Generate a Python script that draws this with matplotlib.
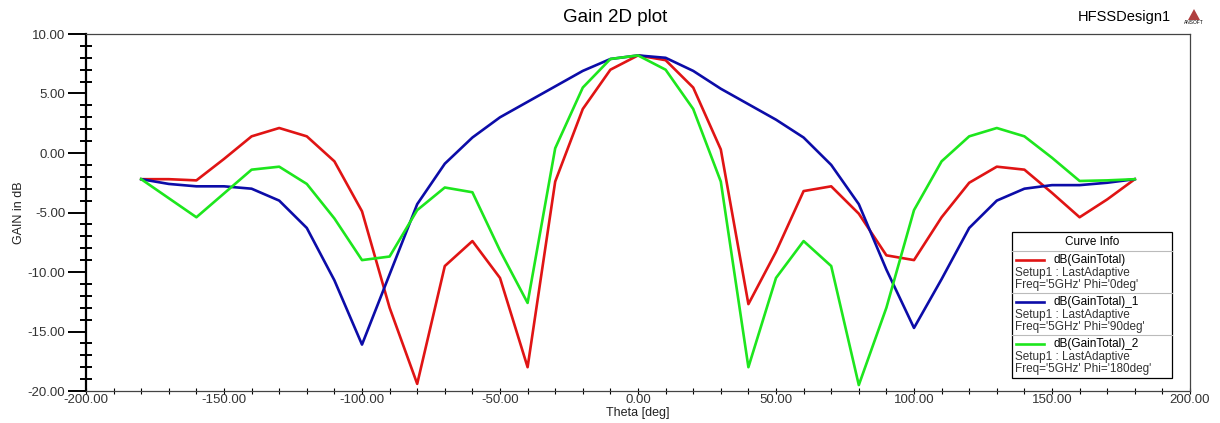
import matplotlib.pyplot as plt
from matplotlib.lines import Line2D
from matplotlib.patches import Rectangle, Polygon
from matplotlib.ticker import MultipleLocator, FormatStrFormatter

plt.rcParams['font.family'] = ['Liberation Sans', 'DejaVu Sans']

# theta sweep, 10 deg steps
theta = list(range(-180, 181, 10))

# dB(GainTotal), Phi = 0deg
gain_phi0 = [-2.2, -2.2, -2.3, -0.5, 1.4, 2.1, 1.4, -0.7, -4.9, -13.0,
             -19.4, -9.5, -7.4, -10.5, -18.0, -2.4, 3.7, 7.0, 8.2, 7.8,
             5.5, 0.3, -12.7, -8.3, -3.2, -2.8, -5.1, -8.6, -9.0, -5.4,
             -2.5, -1.15, -1.4, -3.35, -5.4, -3.9, -2.2]
# dB(GainTotal)_1, Phi = 90deg
gain_phi90 = [-2.2, -2.6, -2.8, -2.8, -3.0, -4.0, -6.3, -10.7, -16.1, -10.2,
              -4.3, -0.9, 1.3, 3.0, 4.3, 5.6, 6.9, 7.9, 8.2, 8.0,
              6.9, 5.4, 4.1, 2.8, 1.3, -1.0, -4.3, -9.8, -14.7, -10.6,
              -6.3, -4.0, -3.0, -2.7, -2.7, -2.5, -2.2]
# dB(GainTotal)_2, Phi = 180deg
gain_phi180 = [-2.2, -3.8, -5.4, -3.4, -1.4, -1.15, -2.6, -5.5, -9.0, -8.7,
               -4.8, -2.9, -3.3, -8.2, -12.6, 0.4, 5.5, 7.9, 8.2, 7.0,
               3.7, -2.4, -18.0, -10.5, -7.4, -9.5, -19.5, -13.0, -4.8, -0.7,
               1.4, 2.1, 1.4, -0.4, -2.35, -2.3, -2.2]

series = [
    (gain_phi0, '#e01414', 'dB(GainTotal)', "Freq='5GHz' Phi='0deg'"),
    (gain_phi90, '#0c0ca8', 'dB(GainTotal)_1', "Freq='5GHz' Phi='90deg'"),
    (gain_phi180, '#1de61d', 'dB(GainTotal)_2', "Freq='5GHz' Phi='180deg'"),
]

W, H = 1220, 423
fig = plt.figure(figsize=(W / 100, H / 100), dpi=100)
ax = fig.add_axes([86 / W, 1 - 391 / H, (1190 - 86) / W, (391 - 34) / H])

for vals, col, name, info in series:
    ax.plot(theta, vals, color=col, lw=1.9)

ax.set_xlim(-200, 200)
ax.set_ylim(-20, 10)
ax.xaxis.set_major_locator(MultipleLocator(50))
ax.xaxis.set_minor_locator(MultipleLocator(10))
ax.yaxis.set_major_locator(MultipleLocator(5))
ax.yaxis.set_minor_locator(MultipleLocator(1))
ax.xaxis.set_major_formatter(FormatStrFormatter('%.2f'))
ax.yaxis.set_major_formatter(FormatStrFormatter('%.2f'))
ax.tick_params(axis='y', which='major', direction='out', length=13, width=1.4,
               labelsize=9.5, labelcolor='#333333', pad=2)
ax.tick_params(axis='y', which='minor', direction='inout', length=8, width=1.4)
ax.tick_params(axis='x', which='major', direction='inout', length=5, width=0.8,
               labelsize=9.5, labelcolor='#333333', pad=0)
ax.tick_params(axis='x', which='minor', direction='inout', length=4, width=0.8)
for s in ['top', 'right', 'bottom']:
    ax.spines[s].set_linewidth(0.9)
    ax.spines[s].set_color('#444444')
ax.spines['left'].set_linewidth(1.6)

ax.set_xlabel('Theta [deg]', fontsize=9, color='#222222', labelpad=0.5)
ax.set_ylabel('GAIN in dB', fontsize=9, color='#222222', labelpad=2)

def fx(x):
    return x / W

def fy(y):
    return 1 - y / H

fig.text(fx(615), fy(17), 'Gain 2D plot', fontsize=13.5, ha='center', va='center')
fig.text(fx(1124), fy(17), 'HFSSDesign1', fontsize=10.5, ha='center', va='center')
# small logo
fig.patches.append(Polygon([(fx(1188), fy(20)), (fx(1200), fy(20)), (fx(1194), fy(9))],
                           closed=True, transform=fig.transFigure,
                           facecolor='#b04040', edgecolor='none'))
fig.text(fx(1194), fy(23), 'ANSOFT', fontsize=3.5, ha='center', va='center')

# "Curve Info" box
bx0, bx1, by0, by1 = 1012, 1172, 232, 378
fig.patches.append(Rectangle((fx(bx0), fy(by1)), fx(bx1 - bx0), (by1 - by0) / H,
                             transform=fig.transFigure, facecolor='white',
                             edgecolor='black', lw=0.9, zorder=5))
fig.text(fx((bx0 + bx1) / 2), fy(242), 'Curve Info', fontsize=8.5,
         ha='center', va='center', zorder=6)
row_top = [251, 293, 335]
for (vals, col, name, info), ry in zip(series, row_top):
    fig.lines.append(Line2D([fx(bx0), fx(bx1)], [fy(ry), fy(ry)],
                            transform=fig.transFigure, color='#bbbbbb', lw=0.8, zorder=6))
    fig.lines.append(Line2D([fx(1016), fx(1044)], [fy(ry + 9), fy(ry + 9)],
                            transform=fig.transFigure, color=col, lw=1.9, zorder=6))
    fig.text(fx(1054), fy(ry + 9), name, fontsize=8.5, va='center', zorder=6)
    fig.text(fx(1015), fy(ry + 22), 'Setup1 : LastAdaptive', fontsize=8.5,
             va='center', color='#333333', zorder=6)
    fig.text(fx(1015), fy(ry + 34), info, fontsize=8.5, va='center',
             color='#333333', zorder=6)

fig.savefig('out.png', dpi=100)
